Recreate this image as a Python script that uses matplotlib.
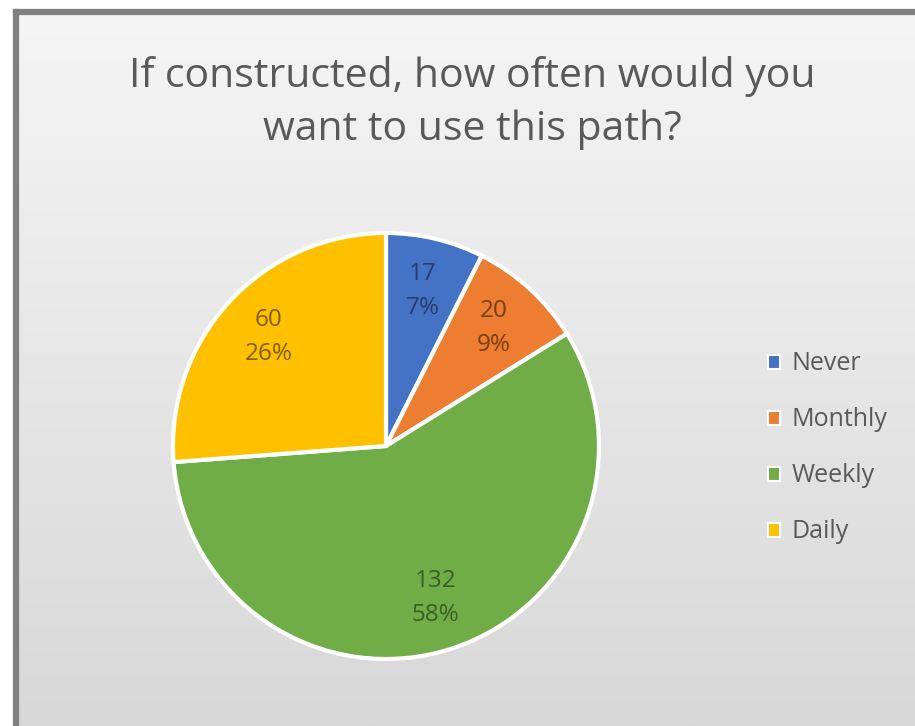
import numpy as np
import matplotlib
matplotlib.use("Agg")
import matplotlib.pyplot as plt
from matplotlib.patches import Patch
from matplotlib.colors import LinearSegmentedColormap

categories = ["Never", "Monthly", "Weekly", "Daily"]
counts = [17, 20, 132, 60]
colors = ["#4472C4", "#ED7D31", "#70AD47", "#FFC000"]
label_colors = ["#263E6B", "#7A3E12", "#3B5E26", "#7F5F00"]
title = "If constructed, how often would you\nwant to use this path?"

plt.rcParams["font.family"] = ["Open Sans", "DejaVu Sans"]

W, H = 915, 726
fig = plt.figure(figsize=(W / 100, H / 100), dpi=100)
fig.patch.set_facecolor("white")

# background panel with vertical gradient
bg = fig.add_axes([16 / W, 0, 1 - 16 / W, 1 - 12 / H])
grad = np.linspace(0, 1, 256).reshape(-1, 1)
cmap = LinearSegmentedColormap.from_list("g", ["#d8d8d8", "#f5f5f5"])
bg.imshow(grad, aspect="auto", cmap=cmap, origin="lower", extent=[0, 1, 0, 1])
bg.set_xlim(0, 1)
bg.set_ylim(0, 1)
bg.set_xticks([])
bg.set_yticks([])
for s in ["right", "bottom"]:
    bg.spines[s].set_visible(False)
for s in ["top", "left"]:
    bg.spines[s].set_color("#808080")
    bg.spines[s].set_linewidth(4.5)

fig.text(472 / W, 1 - 103 / H, title, ha="center", va="center",
         fontsize=29.5, color="#595959", linespacing=1.42)

cx, cy, r = 386, 446, 213
ax = fig.add_axes([(cx - r) / W, (H - cy - r) / H, 2 * r / W, 2 * r / H])
ax.set_axis_off()
total = sum(counts)
wedges, texts = ax.pie(counts, colors=colors, startangle=90, counterclock=False,
                       radius=1.0, wedgeprops=dict(edgecolor="white", linewidth=3))
for w in wedges:
    w.set_clip_on(False)
ax.set_xlim(-1.0, 1.0)
ax.set_ylim(-1.0, 1.0)
ax.set_aspect("equal")

cum = 0
for v, lc in zip(counts, label_colors):
    mid = 90 - (cum + v / 2) / total * 360
    cum += v
    rr = 0.75
    x = rr * np.cos(np.radians(mid))
    y = rr * np.sin(np.radians(mid))
    ax.text(x, y, f"{v}\n{round(v / total * 100)}%", ha="center", va="center",
            fontsize=17.5, color=lc, linespacing=1.55)

handles = [Patch(facecolor=c, edgecolor="white", linewidth=1.5) for c in colors]
fig.legend(handles, categories, loc="center left", bbox_to_anchor=(745 / W, 1 - 448 / H),
           frameon=False, fontsize=18, labelcolor="#595959", handlelength=0.5,
           handleheight=0.5, handletextpad=0.45, labelspacing=1.24)

fig.savefig("out.png", dpi=100)
